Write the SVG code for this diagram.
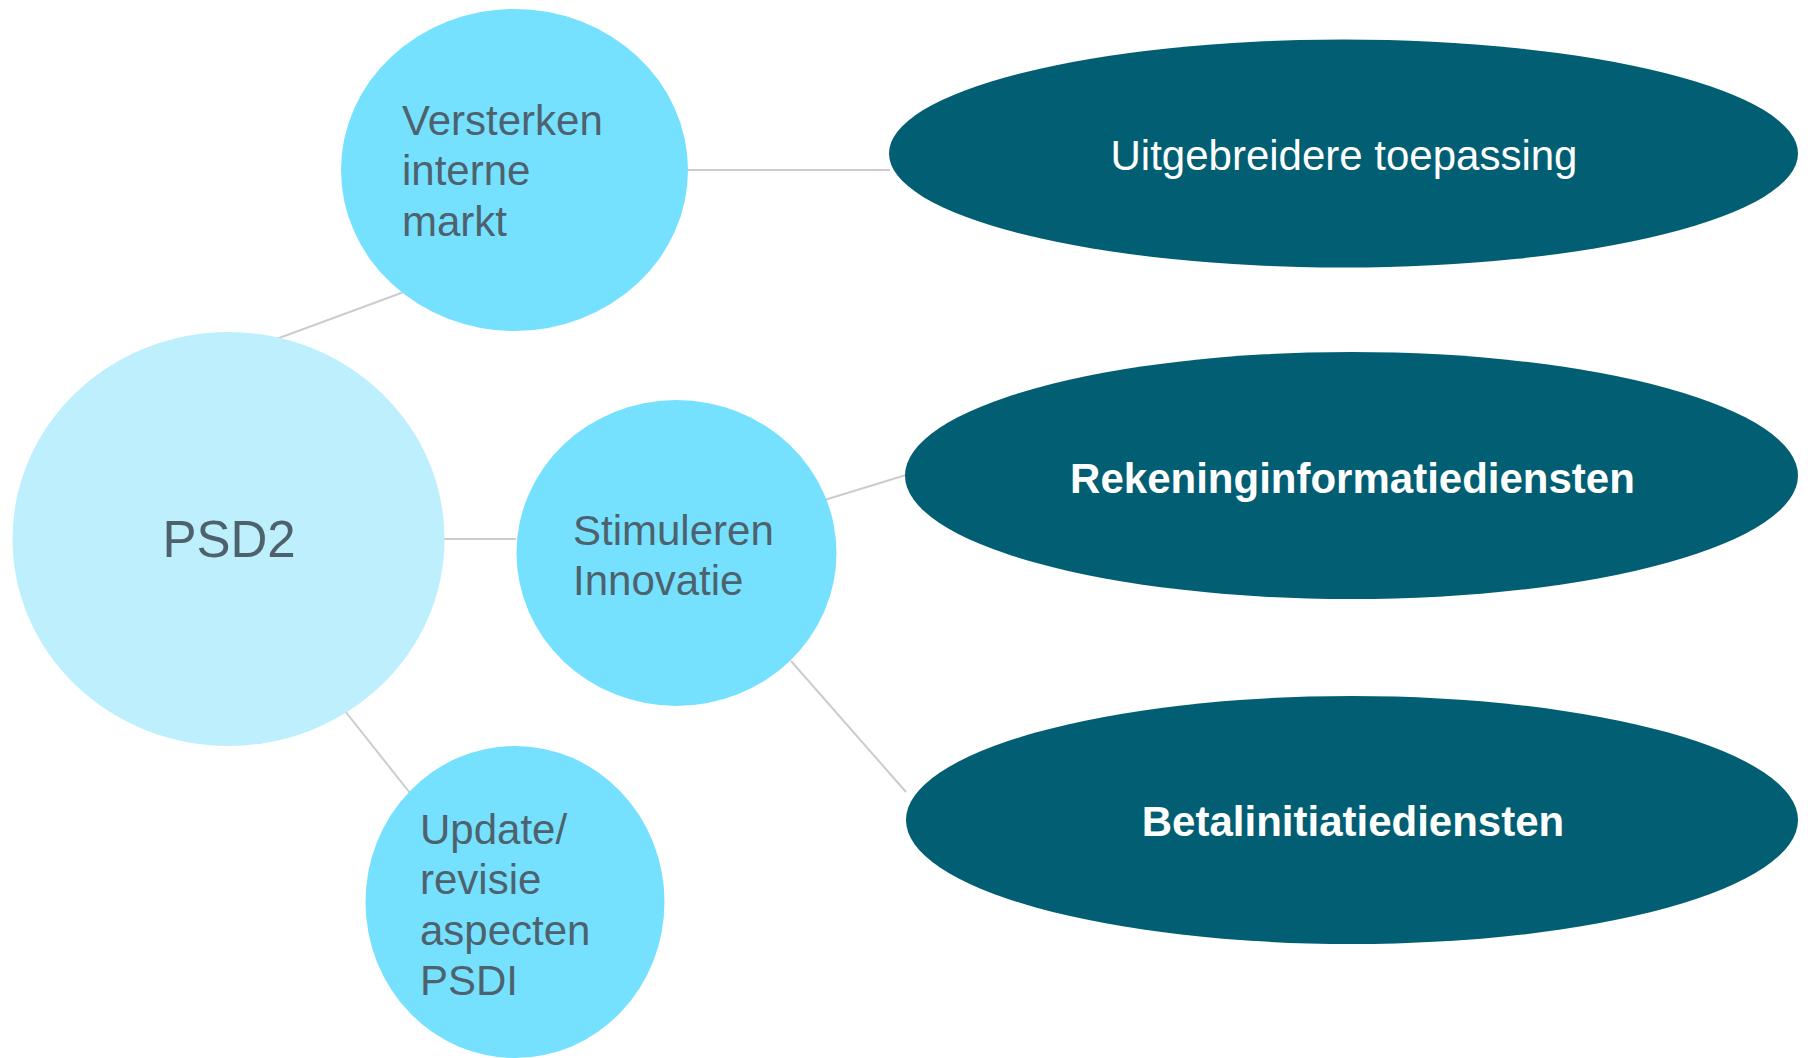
<svg xmlns="http://www.w3.org/2000/svg" width="1808" height="1058" viewBox="0 0 1808 1058">
<style>
.lt{fill:#75E1FF}
.pale{fill:#BDEFFD}
.dk{fill:#025F73}
.lbl{font-family:"Liberation Sans",Arial,sans-serif;font-size:42px;fill:#4E626D}
.wl{font-family:"Liberation Sans",Arial,sans-serif;font-size:42px;fill:#FFFFFF;text-anchor:middle}
.b{font-weight:bold}
.conn line{stroke:#C9CDD2;stroke-width:2}
</style>
<rect width="1808" height="1058" fill="#FFFFFF"/>
<g class="conn" id="connectors">
<line x1="271" y1="341" x2="412" y2="289"/>
<line x1="688" y1="170" x2="890" y2="170"/>
<line x1="444" y1="539" x2="516" y2="539"/>
<line x1="818" y1="502" x2="906" y2="475"/>
<line x1="791" y1="661" x2="906" y2="792"/>
<line x1="341" y1="706" x2="410" y2="793"/>
</g>
<g id="psd2">
<ellipse class="pale" cx="228.5" cy="539" rx="216" ry="207"/>
<text class="lbl" x="229" y="557" text-anchor="middle" style="font-size:51px">PSD2</text>
</g>
<g id="versterken">
<ellipse class="lt" cx="514.5" cy="170" rx="173.5" ry="161"/>
<text class="lbl" x="402" y="135">Versterken</text>
<text class="lbl" x="402" y="185">interne</text>
<text class="lbl" x="402" y="235.5">markt</text>
</g>
<g id="stimuleren">
<ellipse class="lt" cx="676.5" cy="553" rx="160" ry="153"/>
<text class="lbl" x="573" y="545">Stimuleren</text>
<text class="lbl" x="573" y="594.5">Innovatie</text>
</g>
<g id="update">
<ellipse class="lt" cx="515" cy="902" rx="149.5" ry="156"/>
<text class="lbl" x="420" y="843.5">Update/</text>
<text class="lbl" x="420" y="894">revisie</text>
<text class="lbl" x="420" y="944.5">aspecten</text>
<text class="lbl" x="420" y="995">PSDI</text>
</g>
<g id="uitgebreidere">
<ellipse class="dk" cx="1343.5" cy="153.5" rx="454.5" ry="114"/>
<text class="wl" x="1344" y="170">Uitgebreidere toepassing</text>
</g>
<g id="rekening">
<ellipse class="dk" cx="1351.5" cy="475.5" rx="446.5" ry="123.5"/>
<text class="wl b" x="1352.5" y="492.5">Rekeninginformatiediensten</text>
</g>
<g id="betaal">
<ellipse class="dk" cx="1352" cy="820" rx="446" ry="124"/>
<text class="wl b" x="1353" y="836">Betalinitiatiediensten</text>
</g>
</svg>
